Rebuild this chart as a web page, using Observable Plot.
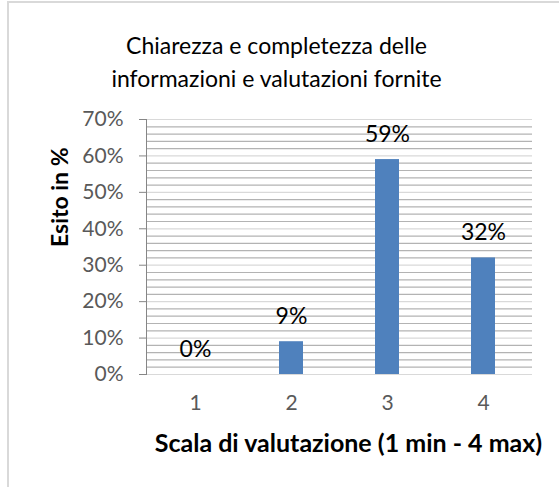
<!DOCTYPE html>
<html>
<head>
<meta charset="utf-8">
<script src="https://cdn.jsdelivr.net/npm/d3@7"></script>
<script src="https://cdn.jsdelivr.net/npm/@observablehq/plot@0.6"></script>
<style>
  html, body { margin: 0; padding: 0; background: #fff; }
  #wrap { position: relative; width: 559px; height: 487px; overflow: hidden; font-family: Lato, "Open Sans", sans-serif; }
  #frame { position: absolute; left: 7px; top: 1px; width: 600px; height: 600px; border-left: 2px solid #d9d9d9; border-top: 2px solid #d9d9d9; box-sizing: border-box; }
  #title { position: absolute; left: 0; top: 29px; width: 553px; text-align: center; font-size: 23px; line-height: 33px; color: #000; }
  #chart { position: absolute; left: 0; top: 0; }
</style>
</head>
<body>
<div id="wrap">
  <div id="frame"></div>
  <div id="chart"></div>
  <div id="title">Chiarezza e completezza delle<br>informazioni e valutazioni fornite</div>
</div>
<script>
const categories = ["1", "2", "3", "4"];
const values = [0, 0.09, 0.59, 0.32];
const valueLabels = ["0%", "9%", "59%", "32%"];
const majorTicks = [0, 0.1, 0.2, 0.3, 0.4, 0.5, 0.6, 0.7];
const minorTicks = [0.02,0.04,0.06,0.08,0.12,0.14,0.16,0.18,0.22,0.24,0.26,0.28,0.32,0.34,0.36,0.38,0.42,0.44,0.46,0.48,0.52,0.54,0.56,0.58,0.62,0.64,0.66,0.68];
const xTitle = "Scala di valutazione (1 min - 4 max)";
const yTitle = "Esito in %";

const data = categories.map((c, i) => ({cat: c, value: values[i], label: valueLabels[i]}));

const chart = Plot.plot({
  width: 559,
  height: 487,
  marginLeft: 146,
  marginRight: 27,
  marginTop: 119,
  marginBottom: 113,
  style: {background: "transparent", fontFamily: "Lato, 'Open Sans', sans-serif", overflow: "visible"},
  x: {domain: categories, paddingInner: 0.75, paddingOuter: 0.375},
  y: {domain: [0, 0.7]},
  marks: [
    Plot.ruleY(minorTicks, {stroke: "#b3b3b3", strokeWidth: 1.2}),
    Plot.ruleY(majorTicks, {stroke: "#d9d9d9", strokeWidth: 1.2}),
    Plot.barY(data, {x: "cat", y: "value", fill: "#4F81BD"}),
    Plot.text(data, {x: "cat", y: "value", text: "label", dy: -25, fontSize: 23, fill: "#000", lineAnchor: "middle"}),
    Plot.axisX({tickSize: 0, tickPadding: 21, fontSize: 21, color: "#595959", label: null}),
    Plot.axisY({ticks: majorTicks, tickSize: 7, tickPadding: 16, fontSize: 21, color: "#595959", stroke: "#868686", tickFormat: d3.format(".0%"), label: null}),
    Plot.frame({anchor: "left", stroke: "#868686"}),
    Plot.text([xTitle], {frameAnchor: "bottom", dx: 9, dy: 69, fontSize: 25, fontWeight: "bold", fill: "#000", lineAnchor: "middle"}),
    Plot.text([yTitle], {frameAnchor: "left", dx: -86, rotate: -90, fontSize: 23, fontWeight: "bold", fill: "#000", lineAnchor: "middle"})
  ]
});
document.getElementById("chart").appendChild(chart);
</script>
</body>
</html>
